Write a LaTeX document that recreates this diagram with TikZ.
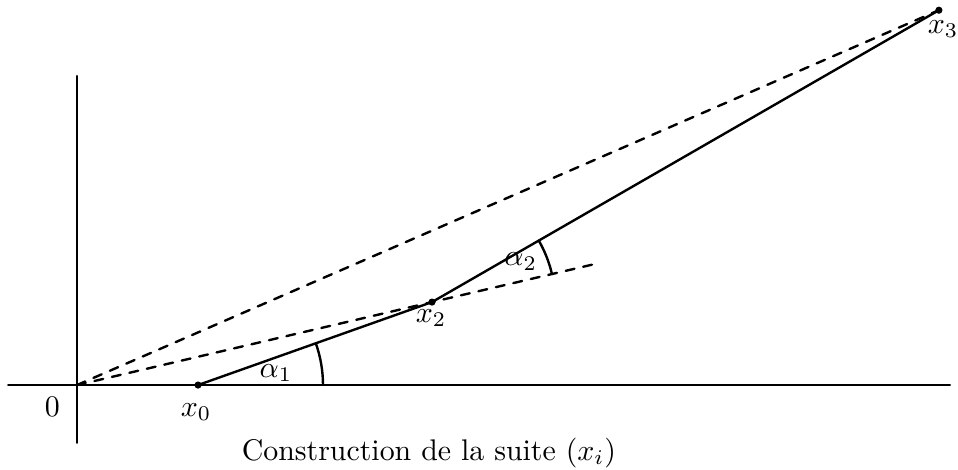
\documentclass[tikz,border=0pt]{standalone}
\usetikzlibrary{calc,angles}
\begin{document}
\begin{tikzpicture}[line cap=round, line width=0.8pt,
  pt/.style={fill, circle, inner sep=0.85pt},
  dashline/.style={dashed},
  angarc/.style={draw, line width=0.8pt, angle radius=#1}]
\useasboundingbox (-0.906,-0.988) rectangle (10.365,4.53);

% ---------- axes ----------
\coordinate (O) at (0,0);
\coordinate (xl) at (-0.81,0);
\coordinate (xr) at (10.27,0);
\coordinate (yb) at (0,-0.68);
\coordinate (yt) at (0,3.635);
\draw (xl) -- (xr);
\draw (yb) -- (yt);
\node (zero) at (-0.29,-0.26) {$0$};

% ---------- the points ----------
\node[pt] (x0) at (1.424,0) {};
\node[pt] (x2) at (4.176,0.976) {};
\node[pt] (x3) at (10.14,4.41) {};
\node (lx0) at (1.4,-0.32) {$x_0$};
\node (lx2) at (4.165,0.79) {$x_2$};
\node (lx3) at (10.19,4.19) {$x_3$};

% solid path and dashed rays from the origin
\draw (x0.center) -- (x2.center) -- (x3.center);
\coordinate (e2) at ($(O)!1.47!(x2)$);
\draw[dashline] (O) -- (e2);
\draw[dashline] (O) -- (x3.center);

% ---------- angles ----------
\coordinate (x0c) at (x0.center);
\coordinate (x2c) at (x2.center);
\coordinate (x3c) at (x3.center);
\pic[angarc=1.47cm] {angle = xr--x0c--x2c};
\pic[angarc=1.45cm] {angle = e2--x2c--x3c};
\node (a1) at (2.34,0.14) {$\alpha_1$};
\node (a2) at (5.22,1.45) {$\alpha_2$};

\node (cap) at (4.14,-0.80) {Construction de la suite $(x_i)$};
\end{tikzpicture}
\end{document}
